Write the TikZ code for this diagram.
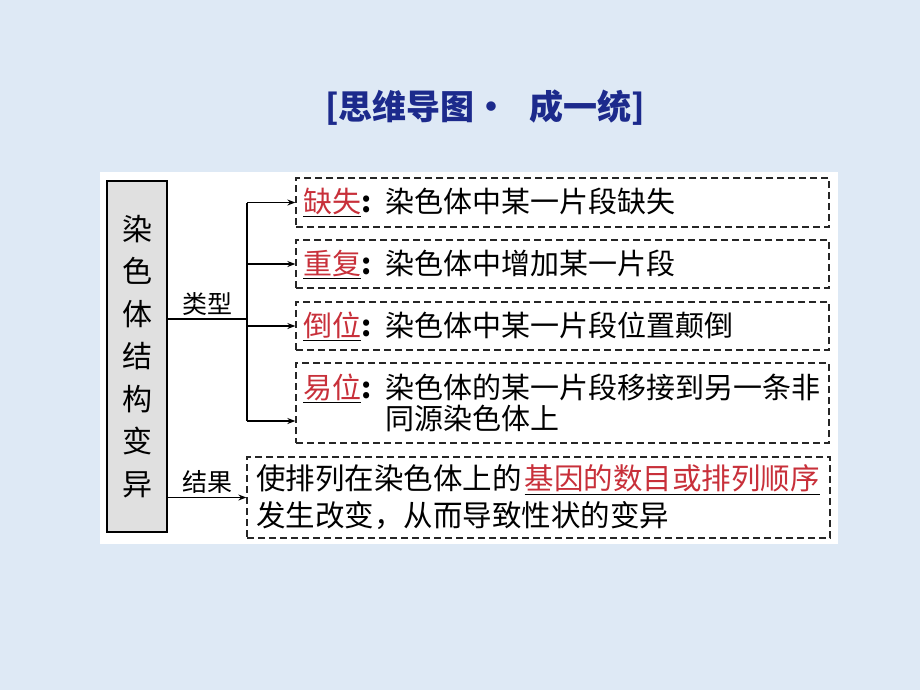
\documentclass[tikz,border=0pt]{standalone}
\usepackage{fontspec}
\setmainfont{Noto Sans CJK SC}
\usetikzlibrary{arrows.meta, positioning}

\definecolor{bgblue}{HTML}{DEE9F5}
\definecolor{titleblue}{HTML}{1C2A8C}
\definecolor{labred}{HTML}{C8303A}
\definecolor{boxgray}{HTML}{E0E0E0}

\newcommand\lab[1]{\makebox[82pt][l]{\underline{\textcolor{labred}{#1}}\textbf{:}}}

\tikzset{
  dbox/.style = {draw=black!85, dash pattern=on 7pt off 4pt, line width=1.3pt,
    inner xsep=7pt, text width=519pt, align=left, font=\fontsize{29}{31}\selectfont},
  link/.style = {line width=1.2pt, -{Stealth[length=8pt, width=6pt]}},
  tag/.style = {font=\fontsize{25}{28}\selectfont, above, inner sep=3pt}
}

\begin{document}
\begin{tikzpicture} [x=1pt, y=-1pt]
        \fill [bgblue] (0,0) rectangle (920,690);
        \fill [white] (100,172) rectangle (838,544);

        \node (title) [font=\fontsize{34}{40}\selectfont\bfseries, text=titleblue] at (485,108) {[思维导图·\hspace{0.6em}成一统]};

        \node (bianyi) [draw, fill=boxgray, line width=1.3pt, minimum width=60pt, minimum height=351pt,
            align=center, font=\fontsize{30}{42.5}\selectfont] at (137,356.5) {染\\色\\体\\结\\构\\变\\异};

        \node (queshi) [dbox, minimum height=49pt] at (562.5,202.5) {\lab{缺失}染色体中某一片段缺失};
        \node (chongfu) [dbox, minimum height=48pt] at (562.5,264) {\lab{重复}染色体中增加某一片段};
        \node (daowei) [dbox, minimum height=48pt] at (562.5,326) {\lab{倒位}染色体中某一片段位置颠倒};
        \node (yiwei) [dbox, minimum height=80pt] at (562.5,403) {\lab{易位}\makebox[436pt][s]{染\hfil 色\hfil 体\hfil 的\hfil 某\hfil 一\hfil 片\hfil 段\hfil 移\hfil 接\hfil 到\hfil 另\hfil 一\hfil 条\hfil 非}\\\hspace*{82pt}同源染色体上};
        \node (jieguo) [dbox, inner xsep=9pt, text width=565pt, minimum height=81pt,
            font=\fontsize{29.5}{37}\selectfont] at (538.5,497.5) {使排列在染色体上的\hspace{3pt}\underline{\textcolor{labred}{基因的数目或排列顺序}}\\发生改变，从而导致性状的变异};

        \coordinate (fork) at (247,319);
        \coordinate (yw) at ([yshift=-18pt]yiwei.west);

        \draw [line width=1.2pt] (bianyi.east |- fork) -- (fork) node [tag, midway] {类型};
        \draw [line width=1.2pt] (fork |- queshi.west) -- (fork |- yw);
        \path [link] (fork |- queshi.west) edge (queshi.west);
        \path [link] (fork |- chongfu.west) edge (chongfu.west);
        \path [link] (fork |- daowei.west) edge (daowei.west);
        \path [link] (fork |- yw) edge (yw);
        \path [link] (bianyi.east |- jieguo.west) edge node [tag] {结果} (jieguo.west);
    \end{tikzpicture}
\end{document}
